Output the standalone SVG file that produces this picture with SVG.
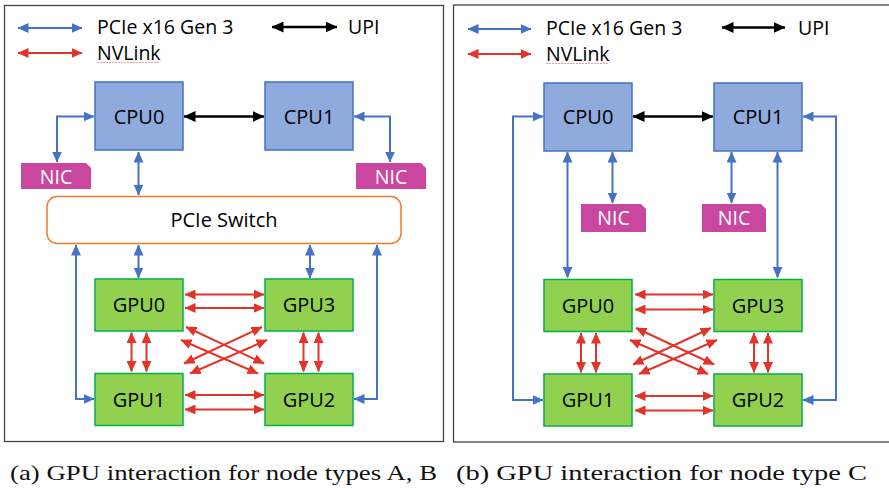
<svg xmlns="http://www.w3.org/2000/svg" width="889" height="491" viewBox="0 0 889 491">
<style>
.t{font-family:"Open Sans","Liberation Sans",sans-serif;font-size:20px;fill:#000}
.lt{font-family:"Open Sans","Liberation Sans",sans-serif;font-size:19.5px;fill:#000}
.nt{font-family:"Open Sans","Liberation Sans",sans-serif;font-size:19.5px;fill:#fff}
.cap{font-family:"Liberation Serif","DejaVu Serif",serif;font-size:21px;fill:#111}
.cpu{fill:#8FAADC;stroke:#4472C4;stroke-width:1.5}
.gpu{fill:#92D050;stroke:#00B050;stroke-width:1.5}
.nic{fill:#C9479F}
.sw{fill:#fff;stroke:#ED7D31;stroke-width:1.5}
.panel{fill:#fff;stroke:#444;stroke-width:1.3}
.b{fill:none;stroke:#4472C4;stroke-width:2;marker-start:url(#mb);marker-end:url(#mb)}
.r{fill:none;stroke:#E3342A;stroke-width:2;marker-start:url(#mr);marker-end:url(#mr)}
.k{fill:none;stroke:#000;stroke-width:2.5;marker-start:url(#mk);marker-end:url(#mk)}
</style>
<defs>
<marker id="mb" markerUnits="userSpaceOnUse" markerWidth="11" markerHeight="10" refX="10.5" refY="5" orient="auto-start-reverse"><path d="M0,0 L11,5 L0,10 Z" fill="#4472C4"/></marker>
<marker id="mr" markerUnits="userSpaceOnUse" markerWidth="11" markerHeight="10" refX="10.5" refY="5" orient="auto-start-reverse"><path d="M0,0 L11,5 L0,10 Z" fill="#E3342A"/></marker>
<marker id="mk" markerUnits="userSpaceOnUse" markerWidth="12" markerHeight="11" refX="11.5" refY="5.5" orient="auto-start-reverse"><path d="M0,0 L12,5.5 L0,11 Z" fill="#000"/></marker>
</defs>
<rect width="889" height="491" fill="#fff"/>

<!-- Panel A -->
<g id="panelA">
<rect class="panel" x="4.5" y="5.5" width="439" height="436"/>
<g id="legendA">
<text class="lt" x="97" y="33.5">PCIe x16 Gen 3</text>
<text class="lt" x="348" y="33.5">UPI</text>
<text class="lt" x="97" y="60">NVLink</text>
<path d="M97,62.5 h63" stroke="#F08080" stroke-width="0.8" stroke-dasharray="2,1" fill="none"/>
</g>
<g id="a-cpu0"><rect class="cpu" x="95" y="82" width="88" height="68"/><text class="t" x="139" y="123.5" text-anchor="middle">CPU0</text></g>
<g id="a-cpu1"><rect class="cpu" x="265" y="82" width="88" height="68"/><text class="t" x="309" y="123.5" text-anchor="middle">CPU1</text></g>
<g id="a-nic0"><path class="nic" d="M21,163 H86 L91,168 V189 H21 Z"/><text class="nt" x="56" y="183.5" text-anchor="middle">NIC</text></g>
<g id="a-nic1"><path class="nic" d="M356,163 H421 L426,168 V189 H356 Z"/><text class="nt" x="391" y="183.5" text-anchor="middle">NIC</text></g>
<g id="a-switch"><rect class="sw" x="47" y="196.5" width="354" height="47" rx="10"/><text class="t" x="224" y="227" text-anchor="middle">PCIe Switch</text></g>
<g id="a-gpu0"><rect class="gpu" x="95" y="279" width="88" height="52"/><text class="t" x="139" y="312" text-anchor="middle">GPU0</text></g>
<g id="a-gpu3"><rect class="gpu" x="265" y="279" width="88" height="52"/><text class="t" x="309" y="312" text-anchor="middle">GPU3</text></g>
<g id="a-gpu1"><rect class="gpu" x="95" y="373.5" width="88" height="52"/><text class="t" x="139" y="406.5" text-anchor="middle">GPU1</text></g>
<g id="a-gpu2"><rect class="gpu" x="265" y="373.5" width="88" height="52"/><text class="t" x="309" y="406.5" text-anchor="middle">GPU2</text></g>
</g>

<!-- Panel B -->
<g id="panelB">
<rect class="panel" x="453.5" y="5" width="440" height="437"/>
<g id="legendB">
<text class="lt" x="546" y="34.5">PCIe x16 Gen 3</text>
<text class="lt" x="798" y="34.5">UPI</text>
<text class="lt" x="546" y="61">NVLink</text>
<path d="M546,63.5 h63" stroke="#F08080" stroke-width="0.8" stroke-dasharray="2,1" fill="none"/>
</g>
<g id="b-cpu0"><rect class="cpu" x="544" y="83" width="88" height="68"/><text class="t" x="588" y="124" text-anchor="middle">CPU0</text></g>
<g id="b-cpu1"><rect class="cpu" x="714" y="83" width="88" height="68"/><text class="t" x="758" y="124" text-anchor="middle">CPU1</text></g>
<g id="b-nic0"><path class="nic" d="M581,204 H641 L646,209 V232 H581 Z"/><text class="nt" x="613.5" y="225" text-anchor="middle">NIC</text></g>
<g id="b-nic1"><path class="nic" d="M702,204 H761 L766,209 V232 H702 Z"/><text class="nt" x="734" y="225" text-anchor="middle">NIC</text></g>
<g id="b-gpu0"><rect class="gpu" x="544" y="279.5" width="88" height="52"/><text class="t" x="588" y="312.5" text-anchor="middle">GPU0</text></g>
<g id="b-gpu3"><rect class="gpu" x="714" y="279.5" width="88" height="52"/><text class="t" x="758" y="312.5" text-anchor="middle">GPU3</text></g>
<g id="b-gpu1"><rect class="gpu" x="544" y="374" width="88" height="52"/><text class="t" x="588" y="407" text-anchor="middle">GPU1</text></g>
<g id="b-gpu2"><rect class="gpu" x="714" y="374" width="88" height="52"/><text class="t" x="758" y="407" text-anchor="middle">GPU2</text></g>
</g>

<g id="connectors">
<!-- legend A -->
<path class="b" d="M18,28 H82"/>
<path class="k" d="M272,27 H337"/>
<path class="r" d="M18,53 H82"/>
<!-- panel A -->
<path class="k" d="M184,116.5 H264"/>
<path class="b" d="M94,116.5 H57 V162"/>
<path class="b" d="M354,116.5 H390 V162"/>
<path class="b" d="M138.5,152 V195"/>
<path class="b" d="M138.5,245 V278"/>
<path class="b" d="M310,245 V278"/>
<path class="b" d="M76,245 V399 H94"/>
<path class="b" d="M377,245 V399 H354"/>
<path class="r" d="M185,294.5 H264"/>
<path class="r" d="M185,308 H264"/>
<path class="r" d="M185,395 H264"/>
<path class="r" d="M185,409.5 H264"/>
<path class="r" d="M131.5,332.5 V371.5"/>
<path class="r" d="M146.5,332.5 V371.5"/>
<path class="r" d="M303.5,332.5 V371.5"/>
<path class="r" d="M318.5,332.5 V371.5"/>
<path class="r" d="M186,327 L264,363.5"/>
<path class="r" d="M181,340 L258,373.5"/>
<path class="r" d="M262,327 L184,363.5"/>
<path class="r" d="M267,340 L190,373.5"/>
<!-- legend B -->
<path class="b" d="M468,29 H531"/>
<path class="k" d="M722,27.5 H785"/>
<path class="r" d="M468,54 H531"/>
<!-- panel B -->
<path class="k" d="M633,116.5 H713"/>
<path class="b" d="M543,116.5 H513 V400 H543"/>
<path class="b" d="M803,116.5 H836 V400 H803"/>
<path class="b" d="M567.5,152 V277.5"/>
<path class="b" d="M612.5,152 V203"/>
<path class="b" d="M731.5,152 V203"/>
<path class="b" d="M777.5,152 V277.5"/>
<path class="r" d="M635,294.5 H713"/>
<path class="r" d="M635,309.5 H713"/>
<path class="r" d="M635,396 H713"/>
<path class="r" d="M635,410.5 H713"/>
<path class="r" d="M581,333 V372.5"/>
<path class="r" d="M596,333 V372.5"/>
<path class="r" d="M754,333 V372.5"/>
<path class="r" d="M768,333 V372.5"/>
<path class="r" d="M636,328 L714,364.5"/>
<path class="r" d="M630,340 L708,374"/>
<path class="r" d="M711,328 L633,364.5"/>
<path class="r" d="M717,340 L639,374"/>
</g>

<text class="cap" x="10" y="480" textLength="427" lengthAdjust="spacingAndGlyphs">(a) GPU interaction for node types A, B</text>
<text class="cap" x="456" y="480" textLength="411" lengthAdjust="spacingAndGlyphs">(b) GPU interaction for node type C</text>
</svg>
